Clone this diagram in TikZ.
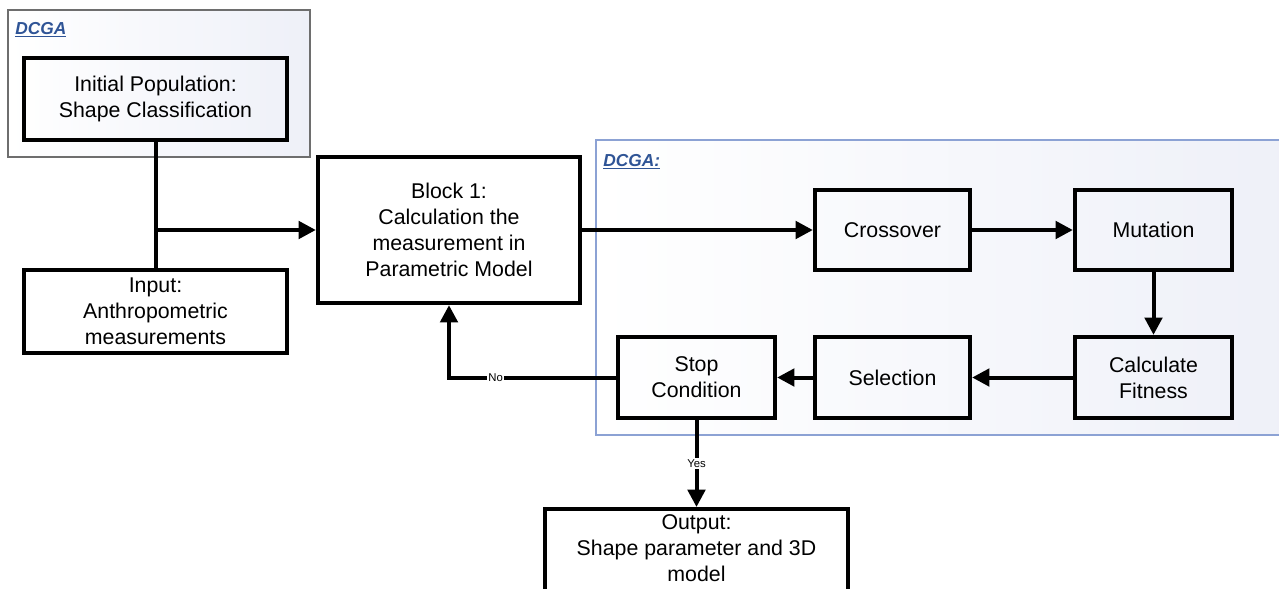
\documentclass[tikz,border=0pt]{standalone}
\usepackage{fontspec}
\setmainfont{Liberation Sans}
\usetikzlibrary{arrows.meta}
\newdimen\pxu \pxu=0.75pt
\definecolor{framegray}{RGB}{110,110,110}
\definecolor{frameblue}{RGB}{140,162,212}
\definecolor{panelshade}{RGB}{238,240,248}
\definecolor{titleblue}{RGB}{47,84,150}
\tikzset{
  x=0.75pt, y=-0.75pt,
  panel/.style={line width=1.1pt, left color=white, right color=panelshade},
  stepbox/.style={draw=black, line width=3.2pt, align=center, inner sep=0pt,
    font=\fontsize{16}{19.5}\selectfont},
  flow/.style={line width=3pt, -{Triangle[length=13pt,width=13pt]}},
  plain/.style={line width=3pt},
  tag/.style={font=\fontsize{8.5}{10}\selectfont, fill=white, inner sep=1pt},
  paneltitle/.style={font=\fontsize{13}{15}\bfseries\itshape\selectfont,
    text=titleblue, anchor=west, inner sep=0pt}
}
\begin{document}
\begin{tikzpicture}
\useasboundingbox (0,0) rectangle (1279,589);
% group panels
\draw[panel, draw=framegray] (8,10) rectangle (310,157);
\draw[panel, draw=frameblue] (596,140) rectangle (1300,435);
\node[paneltitle] (t1) at (15,30) {\underline{DCGA}};
\node[paneltitle] (t2) at (603,162) {\underline{DCGA:}};
% process blocks
\node[stepbox, minimum width=263\pxu, minimum height=82\pxu] (init) at (155.5,99)
  {Initial Population:\\Shape Classification};
\node[stepbox, minimum width=263\pxu, minimum height=83\pxu] (input) at (155.5,311.5)
  {Input:\\Anthropometric\\measurements};
\node[stepbox, minimum width=262\pxu, minimum height=146\pxu] (block) at (449,230)
  {Block 1:\\Calculation the\\measurement in\\Parametric Model};
\node[stepbox, minimum width=155\pxu, minimum height=80\pxu] (cross) at (892.5,230) {Crossover};
\node[stepbox, minimum width=157\pxu, minimum height=80\pxu] (mut) at (1153.5,230) {Mutation};
\node[stepbox, minimum width=157\pxu, minimum height=81\pxu] (fit) at (1153.5,377.5)
  {Calculate\\Fitness};
\node[stepbox, minimum width=155\pxu, minimum height=81\pxu] (sel) at (892.5,377.5) {Selection};
\node[stepbox, minimum width=157\pxu, minimum height=81\pxu] (stop) at (696.5,377.5)
  {Stop\\Condition};
\node[stepbox, minimum width=303\pxu, minimum height=110\pxu, anchor=north] (out) at (696.5,507) {};
\node[align=center, inner sep=0pt, font=\fontsize{16}{19.5}\selectfont] (outtext) at (696.5,548)
  {Output:\\Shape parameter and 3D\\model};
% connectors
\coordinate (join) at (155.5,230);
\draw[plain] (init.south) -- (input.north);
\draw[flow] (join) -- (block.west);
\draw[flow] (block.east) -- (cross.west);
\draw[flow] (cross) -- (mut);
\draw[flow] (mut) -- (fit);
\draw[flow] (fit) -- (sel);
\draw[flow] (sel) -- (stop);
\draw[flow] (stop.west) -| node[tag, pos=0.36] (no) {No} (block.south);
\draw[flow] (stop.south) -- node[tag, pos=0.5] (yes) {Yes} (out.north);
\end{tikzpicture}
\end{document}
